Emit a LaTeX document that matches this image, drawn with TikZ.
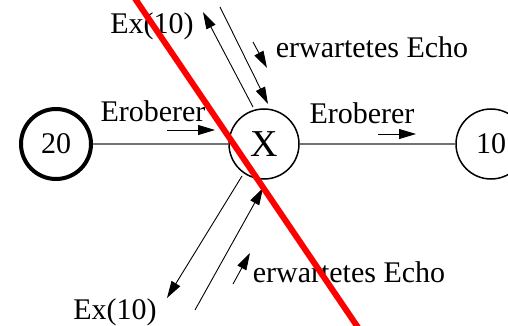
\documentclass[tikz,border=0pt]{standalone}
\usepackage{fontspec}
\setmainfont{Liberation Serif}
\usetikzlibrary{arrows.meta}
\begin{document}
\begin{tikzpicture}[x=1pt,y=-1pt,
  lbl/.style={inner sep=0pt, font=\fontsize{30}{36}\selectfont},
  proc/.style={circle, draw, line width=1.5pt, minimum size=70pt, inner sep=0pt, font=\fontsize{30}{36}\selectfont},
  link/.style={draw=black!55, line width=2pt},
  msg/.style={line width=0.9pt, -{Triangle[length=17pt,width=10pt]}},
  cross/.style={draw=red, line width=6pt},
]
\useasboundingbox (0,0) rectangle (508,326);
\begin{scope}
\clip (0,0) rectangle (508,326);
\node[proc, line width=4pt] (n20) at (56,144) {20};
\node[proc, font=\fontsize{38}{44}\selectfont] (x) at (264,144) {X};
\node[proc] (n10) at (491,144) {10};
\draw[link] (n20) -- (x);
\draw[link] (x) -- (n10);
% Eroberer labels and arrows
\node[lbl] (erl) at (153,111) {Eroberer};
\coordinate (erla) at (167,130);
\coordinate (erlb) at (215,130);
\draw[msg] (erla) -- (erlb);
\node[lbl] (err) at (362,113) {Eroberer};
\coordinate (erra) at (378,134);
\coordinate (errb) at (416,134);
\draw[msg] (erra) -- (errb);
% upper diagonal
\coordinate (u1s) at (253,107);
\coordinate (u1e) at (203,12);
\draw[msg] (u1s) -- (u1e);
\coordinate (u2s) at (220,7);
\coordinate (u2e) at (268,104);
\draw[msg] (u2s) -- (u2e);
\coordinate (u3s) at (253,42);
\coordinate (u3e) at (267,68);
\draw[msg] (u3s) -- (u3e);
\node[lbl] (exu) at (152,26) {Ex(10)};
\node[lbl] (ecu) at (372,47) {erwartetes Echo};
% lower diagonal
\coordinate (l1s) at (242,176);
\coordinate (l1e) at (167,298);
\draw[msg] (l1s) -- (l1e);
\coordinate (l2s) at (195,310);
\coordinate (l2e) at (263,188);
\draw[msg] (l2s) -- (l2e);
\coordinate (l3s) at (233,284);
\coordinate (l3e) at (250,253);
\draw[msg] (l3s) -- (l3e);
\node[lbl] (exl) at (115,312) {Ex(10)};
\node[lbl] (ecl) at (349,272) {erwartetes Echo};
% red strike line
\coordinate (rs) at (132.6,-5);
\coordinate (re) at (360.4,331);
\draw[cross] (rs) -- (re);
\end{scope}
\end{tikzpicture}
\end{document}
